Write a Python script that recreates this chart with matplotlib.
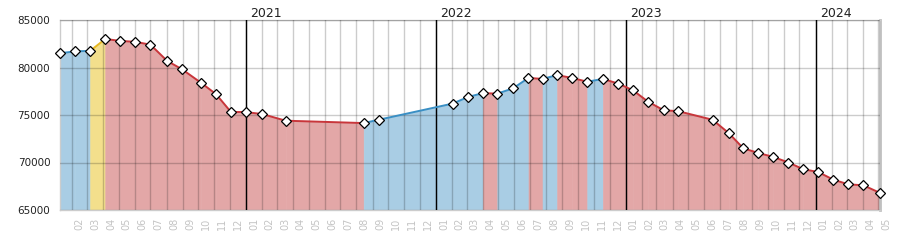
import matplotlib
matplotlib.use('Agg')
import matplotlib.pyplot as plt
import matplotlib.dates as mdates
import matplotlib.transforms as mtransforms
import pandas as pd
import numpy as np

plt.rcParams['font.family'] = ['DejaVu Sans']

# 数据点（日期，数值）
dates = ['2020-01-09', '2020-02-07', '2020-03-07', '2020-04-05', '2020-05-04',
         '2020-06-02', '2020-07-01', '2020-08-02', '2020-08-31', '2020-10-06',
         '2020-11-04', '2020-12-03', '2021-01-01', '2021-02-01', '2021-03-18',
         '2021-08-15', '2021-09-13', '2022-02-02', '2022-03-04', '2022-04-01',
         '2022-04-29', '2022-05-29', '2022-06-28', '2022-07-25', '2022-08-22',
         '2022-09-20', '2022-10-19', '2022-11-18', '2022-12-18', '2023-01-15',
         '2023-02-13', '2023-03-15', '2023-04-12', '2023-06-17', '2023-07-18',
         '2023-08-15', '2023-09-13', '2023-10-11', '2023-11-10', '2023-12-08',
         '2024-01-06', '2024-02-04', '2024-03-04', '2024-04-02', '2024-05-04']
values = [81500, 81700, 81750, 83000, 82800,
          82700, 82400, 80700, 79800, 78400,
          77200, 75300, 75300, 75100, 74400,
          74150, 74500, 76200, 76900, 77300,
          77250, 77800, 78900, 78800, 79200,
          78900, 78500, 78800, 78300, 77600,
          76400, 75500, 75400, 74500, 73100,
          71500, 71000, 70600, 70000, 69300,
          69000, 68200, 67700, 67600, 66800]
# 每段趋势：u=上升 d=下降 y=跳升
trend = "uuy" + "d" * 12 + "uuuu" + "d" + "uu" + "d" + "u" + "dd" + "u" + "d" * 17
years = [2021, 2022, 2023, 2024]

fill_col = {'u': '#a9cde4', 'd': '#e3a7a7', 'y': '#f3df8c'}
line_col = {'u': '#3a8fc4', 'd': '#c8363b', 'y': '#e8b923'}

dt = pd.to_datetime(dates)
x = mdates.date2num(dt)

fig = plt.figure(figsize=(9, 2.5), dpi=100)
ax = fig.add_axes([60 / 900, 40 / 250, 820 / 900, 190 / 250])

for i in range(len(x) - 1):
    t = trend[i]
    ax.fill_between(x[i:i + 2], values[i:i + 2], 65000, facecolor=fill_col[t],
                    edgecolor=fill_col[t], lw=0.4, zorder=1)
    ax.plot(x[i:i + 2], values[i:i + 2], color=line_col[t], lw=1.4, zorder=4,
            solid_capstyle='butt')

ax.plot(x, values, ls='none', marker='D', markersize=5.4, mfc='white', mec='black',
        mew=0.9, zorder=5, clip_on=False)

ax.set_xlim(x[0], x[-1])
ax.set_ylim(65000, 85000)
ax.set_yticks(np.arange(65000, 85001, 5000))

# 月份网格
ax.xaxis.set_major_locator(mdates.MonthLocator())
ax.xaxis.set_major_formatter(plt.NullFormatter())
ax.set_axisbelow(False)
ax.grid(True, color='black', alpha=0.2, lw=1)
ax.tick_params(length=0, labelsize=7.5, labelcolor='#222222', pad=7)

for y in years:
    ax.axvline(mdates.date2num(pd.Timestamp(y, 1, 1)), color='black', lw=1, zorder=3)
    ax.annotate(str(y), xy=(mdates.date2num(pd.Timestamp(y, 1, 1)), 1),
                xycoords=('data', 'axes fraction'), xytext=(3, 2),
                textcoords='offset points', ha='left', va='baseline',
                fontsize=9, color='#222222')

trans = mtransforms.blended_transform_factory(ax.transData, ax.transAxes)
for m in pd.date_range(dt[0], dt[-1], freq='MS'):
    mid = mdates.date2num(m) + m.days_in_month / 2
    ax.text(mid, -0.04, m.strftime('%m'), transform=trans, rotation=90,
            ha='center', va='top', fontsize=7, color='#c4c4c4', clip_on=False)

for s in ['top', 'left', 'bottom']:
    ax.spines[s].set_color('#cccccc')
    ax.spines[s].set_linewidth(1)
ax.spines['right'].set_color('#c0c0c0')
ax.spines['right'].set_linewidth(2)

fig.savefig('out.png', dpi=100)
